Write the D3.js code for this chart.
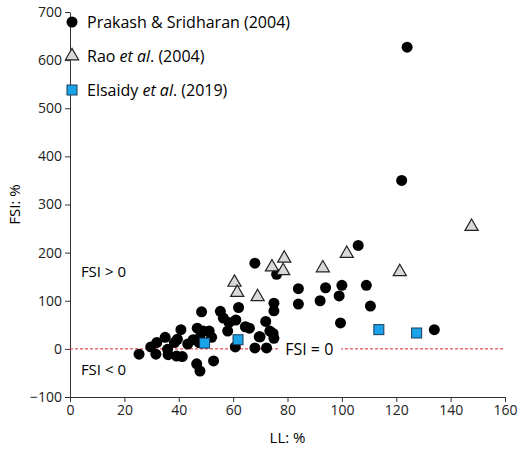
<!DOCTYPE html>
<html><head><meta charset="utf-8">
<script src="https://cdn.jsdelivr.net/npm/d3@7"></script>
<style>body{margin:0;background:#fff}text{font-family:"Open Sans",sans-serif}</style>
</head><body><div id="container"></div>
<script>
// Prakash & Sridharan (2004) [LL, FSI]
const prakash = [
  [124,627],[122,350],[106,215],[134,40],[68,178],[76,155],[84,125],[84,93],[94,127],[92,100],
  [100,132],[99,110],[99.5,54],[109,132],[110.5,89],[75,95],[75,79],[62,86],[72,57],[64.5,46],
  [66,43],[73.5,37],[74.7,32],[75,22],[69.6,25],[68,2],[72.3,2],[60.8,4],[58,37],[55.3,78],
  [56.4,64],[58.5,55],[61,60],[25.4,-11],[29.7,4],[31.9,13],[31.6,-11],[35,24],[35.9,-1],[36.1,-12],
  [38.4,13],[39.5,20],[39.2,-15],[41.3,-16],[40.8,40],[43.3,10],[45.3,19],[46.8,43],[48.4,77],[49,37],
  [51.2,37],[52.1,24],[47.5,13],[47.8,24],[46.6,-31],[47.8,-46],[52.8,-25],[69.9,25]
];
const rao = [[60.5,138],[61.5,117],[69,108],[74.3,170],[78.8,188],[78.4,162],[93,168],[101.8,198],[121.3,160],[147.7,254]];
const elsaidy = [[49.5,12],[61.8,19],[113.6,40],[127.5,33]];
const xTicks = [0,20,40,60,80,100,120,140,160];
const yTicks = [-100,0,100,200,300,400,500,600,700];

const width = 520, height = 455,
  margin = {top: 12, right: 15, bottom: 58, left: 70};

const svg = d3.select("#container").append("svg").attr("width", width).attr("height", height);
const x = d3.scaleLinear().domain([0,160]).range([margin.left, width - margin.right]);
const y = d3.scaleLinear().domain([-100,700]).range([height - margin.bottom, margin.top]);

svg.append("g").attr("transform", `translate(0,${height - margin.bottom})`)
  .call(d3.axisBottom(x).tickValues(xTicks).tickSize(5).tickSizeOuter(0))
  .call(g => g.selectAll("text").attr("font-size", 14).attr("fill", "#222"));
svg.append("g").attr("transform", `translate(${margin.left},0)`)
  .call(d3.axisLeft(y).tickValues(yTicks).tickFormat(d => d < 0 ? "\u2212" + (-d) : d).tickSize(5).tickSizeOuter(0))
  .call(g => g.selectAll("text").attr("font-size", 14).attr("fill", "#222"));
svg.selectAll(".domain, .tick line").attr("stroke", "#333");

// zero line
svg.append("line").attr("x1", x(0)).attr("x2", x(160)).attr("y1", y(0)).attr("y2", y(0))
  .attr("stroke", "#e0202a").attr("stroke-dasharray", "3,2").attr("stroke-width", 1);
svg.append("rect").attr("x", x(88)-30).attr("y", y(0)-10).attr("width", 62).attr("height", 20).attr("fill", "#fff");
svg.append("text").attr("x", x(88)).attr("y", y(0)+6).attr("text-anchor", "middle").attr("font-size", 16).text("FSI = 0");
svg.append("text").attr("x", x(4)).attr("y", y(150)).attr("font-size", 15).text("FSI > 0");
svg.append("text").attr("x", x(4)).attr("y", y(-55)).attr("font-size", 15).text("FSI < 0");

svg.selectAll("circle.p").data(prakash).join("circle").attr("class", "p")
  .attr("cx", d => x(d[0])).attr("cy", d => y(d[1])).attr("r", 5.5).attr("fill", "#000");
const tri = d3.symbol().type(d3.symbolTriangle).size(75);
svg.selectAll("path.r").data(rao).join("path").attr("class", "r")
  .attr("transform", d => `translate(${x(d[0])},${y(d[1])})`).attr("d", tri)
  .attr("fill", "#d9d9d9").attr("stroke", "#222").attr("stroke-width", 1.2);
svg.selectAll("rect.e").data(elsaidy).join("rect").attr("class", "e")
  .attr("x", d => x(d[0]) - 5).attr("y", d => y(d[1]) - 5).attr("width", 10).attr("height", 10)
  .attr("fill", "#1aa3e8").attr("stroke", "#1a3a5a").attr("stroke-width", 1);

// legend
const lg = svg.append("g").attr("transform", "translate(72,22)");
lg.append("circle").attr("cx", 0).attr("cy", 0).attr("r", 5.5);
lg.append("path").attr("transform", "translate(0,34)").attr("d", tri).attr("fill", "#d9d9d9").attr("stroke", "#222").attr("stroke-width", 1.2);
lg.append("rect").attr("x", -5).attr("y", 63).attr("width", 10).attr("height", 10).attr("fill", "#1aa3e8").attr("stroke", "#1a3a5a");
lg.append("text").attr("x", 15).attr("y", 6).attr("font-size", 16).text("Prakash & Sridharan (2004)");
const t2 = lg.append("text").attr("x", 15).attr("y", 40).attr("font-size", 16);
t2.append("tspan").text("Rao "); t2.append("tspan").attr("font-style", "italic").text("et al"); t2.append("tspan").text(". (2004)");
const t3 = lg.append("text").attr("x", 15).attr("y", 74).attr("font-size", 16);
t3.append("tspan").text("Elsaidy "); t3.append("tspan").attr("font-style", "italic").text("et al"); t3.append("tspan").text(". (2019)");

svg.append("text").attr("x", x(80)).attr("y", height - 12).attr("text-anchor", "middle").attr("font-size", 15).text("LL: %");
svg.append("text").attr("transform", `translate(20,${y(300)}) rotate(-90)`).attr("text-anchor", "middle").attr("font-size", 15).text("FSI: %");
</script></body></html>
